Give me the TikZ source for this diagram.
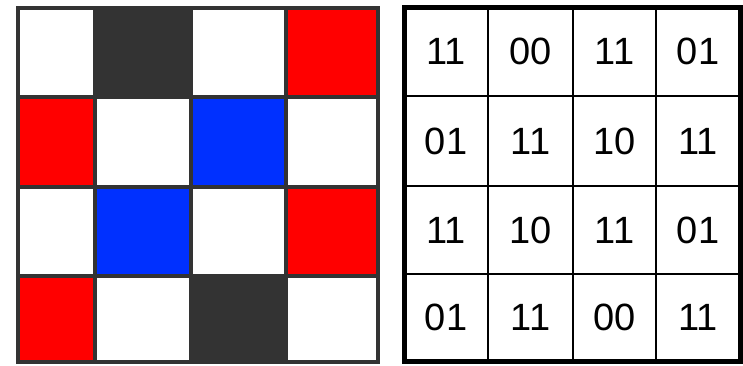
\documentclass[tikz,border=0pt]{standalone}
\usepackage{fontspec}
\setmainfont{Liberation Sans}
\definecolor{cellred}{RGB}{255,0,0}
\definecolor{cellblue}{RGB}{0,48,255}
\definecolor{celldark}{RGB}{51,51,51}
\begin{document}
\begin{tikzpicture}[x=1pt, y=-1pt, every node/.style={font=\fontsize{38}{40}\selectfont}]
      \useasboundingbox (0,0) rectangle (743,365);
      % left grid: coloured cells
      \fill[celldark] (95,8) rectangle (191,97);
      \fill[cellred] (286,8) rectangle (378,97);
      \fill[cellred] (18,97) rectangle (95,187);
      \fill[cellblue] (191,97) rectangle (286,187);
      \fill[cellblue] (95,187) rectangle (191,276);
      \fill[cellred] (286,187) rectangle (378,276);
      \fill[cellred] (18,276) rectangle (95,362);
      \fill[celldark] (191,276) rectangle (286,362);
      \draw[celldark, line width=3.5] (18,8) rectangle (378,362);
      \foreach \xx in {95,191,286}
        \draw[celldark, line width=3.5] (\xx,8) -- (\xx,362);
      \foreach \yy in {97,187,276}
        \draw[celldark, line width=3.5] (18,\yy) -- (378,\yy);
      % right grid: codes
      \draw[line width=5] (404,7) rectangle (740,361);
      \foreach \xx in {488,573,656}
        \draw[line width=2.2] (\xx,7) -- (\xx,361);
      \foreach \yy in {96,186,274}
        \draw[line width=2.2] (404,\yy) -- (740,\yy);
      \node (c11) at (446,51.5) {11};
      \node (c12) at (530.5,51.5) {00};
      \node (c13) at (614.5,51.5) {11};
      \node (c14) at (698,51.5) {01};
      \node (c21) at (446,141) {01};
      \node (c22) at (530.5,141) {11};
      \node (c23) at (614.5,141) {10};
      \node (c24) at (698,141) {11};
      \node (c31) at (446,230) {11};
      \node (c32) at (530.5,230) {10};
      \node (c33) at (614.5,230) {11};
      \node (c34) at (698,230) {01};
      \node (c41) at (446,317.5) {01};
      \node (c42) at (530.5,317.5) {11};
      \node (c43) at (614.5,317.5) {00};
      \node (c44) at (698,317.5) {11};
    \end{tikzpicture}
\end{document}
